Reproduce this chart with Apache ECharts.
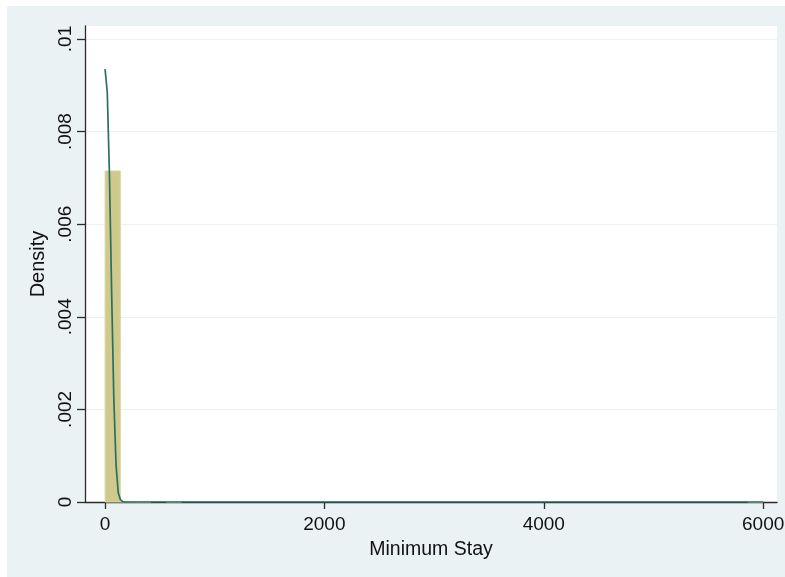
<!DOCTYPE html>
<html>
<head>
<meta charset="utf-8">
<script src="https://cdn.jsdelivr.net/npm/echarts@6/dist/echarts.min.js"></script>
<style>
  html, body { margin: 0; padding: 0; background: #ffffff; }
  #frame { position: absolute; left: 7px; top: 6px; width: 778px; height: 571px; background: #eaf2f3; }
  #chart { position: absolute; left: 0; top: 0; width: 785px; height: 577px; }
</style>
</head>
<body>
<div id="frame"></div>
<div id="chart"></div>
<script>
// Histogram of minimum stay (43 equal-width bins from 1 to 6000) with kernel density overlay
const binMin = 1;
const binWidth = 139.5;
// non-empty bins: bin index and density height
const binIndex = [0, 1, 2, 4, 42];
const binDensity = [0.00715, 0.000009, 0.000004, 0.000004, 0.0000015];

// kernel density estimate
const kdeX = [1, 21, 41, 61, 81, 101, 121, 141, 161, 181, 201, 6000];
const kdeY = [0.00935, 0.00885, 0.00706, 0.0045, 0.0022, 0.0008, 0.0002, 0.00005, 0.00001, 0, 0, 0];

const xTicks = [0, 2000, 4000, 6000];
const yTicks = [0, 0.002, 0.004, 0.006, 0.008, 0.01];

const histData = binIndex.map((b, i) => [binMin + b * binWidth, binMin + (b + 1) * binWidth, binDensity[i]]);
const kdeData = kdeX.map((x, i) => [x, kdeY[i]]);

const axisColor = '#2b2b2b';
const gridColor = '#e9f1f3';
const textStyle = { color: '#111', fontFamily: 'Liberation Sans, Arial, sans-serif', fontSize: 19 };

const chart = echarts.init(document.getElementById('chart'), null, { renderer: 'canvas' });
chart.setOption({
  backgroundColor: 'transparent',
  animation: false,
  grid: {
    left: 85, top: 26, right: 8, bottom: 75,
    outerBoundsMode: 'none', containLabel: false,
    show: true, backgroundColor: '#ffffff', borderWidth: 0
  },
  xAxis: {
    type: 'value', min: -182, max: 6126,
    name: 'Minimum Stay', nameLocation: 'middle', nameGap: 38,
    nameTextStyle: Object.assign({}, textStyle, { fontSize: 19.5 }),
    axisLine: { show: true, onZero: false, lineStyle: { color: axisColor, width: 1.3 } },
    axisTick: { show: true, length: 7, customValues: xTicks, lineStyle: { color: axisColor, width: 1.3 } },
    axisLabel: Object.assign({
      margin: 13, customValues: xTicks, hideOverlap: false,
      formatter: v => String(v)
    }, textStyle),
    splitLine: { show: false }
  },
  yAxis: {
    type: 'value', min: 0, max: 0.01028,
    name: 'Density', nameLocation: 'middle', nameGap: 32, nameRotate: 90,
    nameTextStyle: Object.assign({}, textStyle, { fontSize: 20 }),
    axisLine: { show: true, onZero: false, lineStyle: { color: axisColor, width: 1.3 } },
    axisTick: { show: true, length: 8, customValues: yTicks, lineStyle: { color: axisColor, width: 1.3 } },
    axisLabel: Object.assign({
      margin: 10, rotate: 90, customValues: yTicks,
      formatter: v => v === 0 ? '0' : String(+v.toFixed(4)).replace(/^0\./, '.')
    }, textStyle),
    splitLine: { show: true, lineStyle: { color: gridColor, width: 1.2 } }
  },
  series: [
    {
      type: 'custom',
      data: histData,
      encode: { x: [0, 1], y: 2 },
      z: 2,
      renderItem: (params, api) => {
        const p0 = api.coord([api.value(0), 0]);
        const p1 = api.coord([api.value(1), api.value(2)]);
        return {
          type: 'rect',
          shape: { x: p0[0], y: p1[1], width: p1[0] - p0[0], height: p0[1] - p1[1] },
          style: { fill: '#cfc98b', stroke: '#dcd8a6', lineWidth: 1 }
        };
      }
    },
    {
      type: 'line',
      data: kdeData,
      showSymbol: false,
      smooth: false,
      z: 3,
      lineStyle: { color: '#2a6f64', width: 1.7 }
    }
  ]
});
</script>
</body>
</html>
